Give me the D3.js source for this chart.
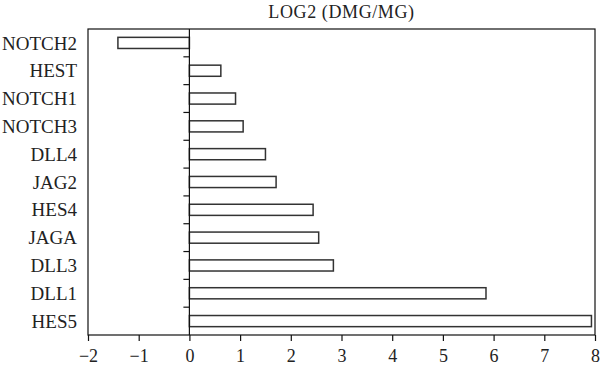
<!DOCTYPE html>
<html><head><meta charset="utf-8">
<script src="https://cdn.jsdelivr.net/npm/d3@7"></script>
<style>body{margin:0;background:#fff}svg{display:block}text{font-family:"Liberation Serif","Times New Roman",serif;fill:#222}</style>
</head><body>
<svg id="c" width="600" height="369"></svg>
<script>
const categories = ["NOTCH2","HEST","NOTCH1","NOTCH3","DLL4","JAG2","HES4","JAGA","DLL3","DLL1","HES5"];
const values = [-1.41, 0.62, 0.91, 1.06, 1.50, 1.71, 2.44, 2.55, 2.84, 5.85, 7.93];
const xTicks = [-2,-1,0,1,2,3,4,5,6,7,8];
const title = "LOG2 (DMG/MG)";

const svg = d3.select("#c");
const L = 88, R = 595, T = 29, B = 335;
const x = d3.scaleLinear().domain([-2,8]).range([L,R]);
const y = d3.scaleBand().domain(categories).range([T,B]).paddingInner(0.6).paddingOuter(0.3);
const yb = d3.scaleBand().domain(categories).range([T,B]);

// frame
svg.append("rect").attr("x",L).attr("y",T).attr("width",R-L).attr("height",B-T)
  .attr("fill","none").attr("stroke","#111").attr("stroke-width",1.2);

// bars
svg.selectAll("rect.bar").data(values).enter().append("rect")
  .attr("x",(d)=>x(Math.min(0,d)))
  .attr("width",(d)=>Math.abs(x(d)-x(0)))
  .attr("y",(d,i)=>y(categories[i]))
  .attr("height",y.bandwidth())
  .attr("fill","#fff").attr("stroke","#333").attr("stroke-width",1.5);

// zero line
svg.append("line").attr("x1",x(0)).attr("x2",x(0)).attr("y1",T).attr("y2",B)
  .attr("stroke","#111").attr("stroke-width",1.2);

// separator ticks on zero line
svg.selectAll("line.sep").data(categories.slice(1)).enter().append("line")
  .attr("x1",x(0)-6).attr("x2",x(0))
  .attr("y1",d=>yb(d)).attr("y2",d=>yb(d))
  .attr("stroke","#111").attr("stroke-width",1.2);

// x axis
const xa = svg.append("g").attr("transform",`translate(0,${B})`)
  .call(d3.axisBottom(x).tickValues(xTicks).tickSize(6).tickSizeOuter(0).tickFormat(d=>d<0?"\u2212"+Math.abs(d):d));
xa.select(".domain").remove();
xa.selectAll("line").attr("stroke","#111").attr("stroke-width",1.2);
xa.selectAll("text").attr("font-size",18).attr("dy","1.0em").attr("font-family","Liberation Serif").attr("fill","#222");

// y labels
svg.selectAll("text.cat").data(categories).enter().append("text")
  .attr("x",L-11).attr("y",d=>yb(d)+yb.bandwidth()/2)
  .attr("dy","0.35em").attr("text-anchor","end").attr("font-size",19).text(d=>d);

// title
svg.append("text").attr("x",(L+R)/2).attr("y",18).attr("text-anchor","middle")
  .attr("font-size",18).attr("letter-spacing",0.6).text(title);
</script>
</body></html>
